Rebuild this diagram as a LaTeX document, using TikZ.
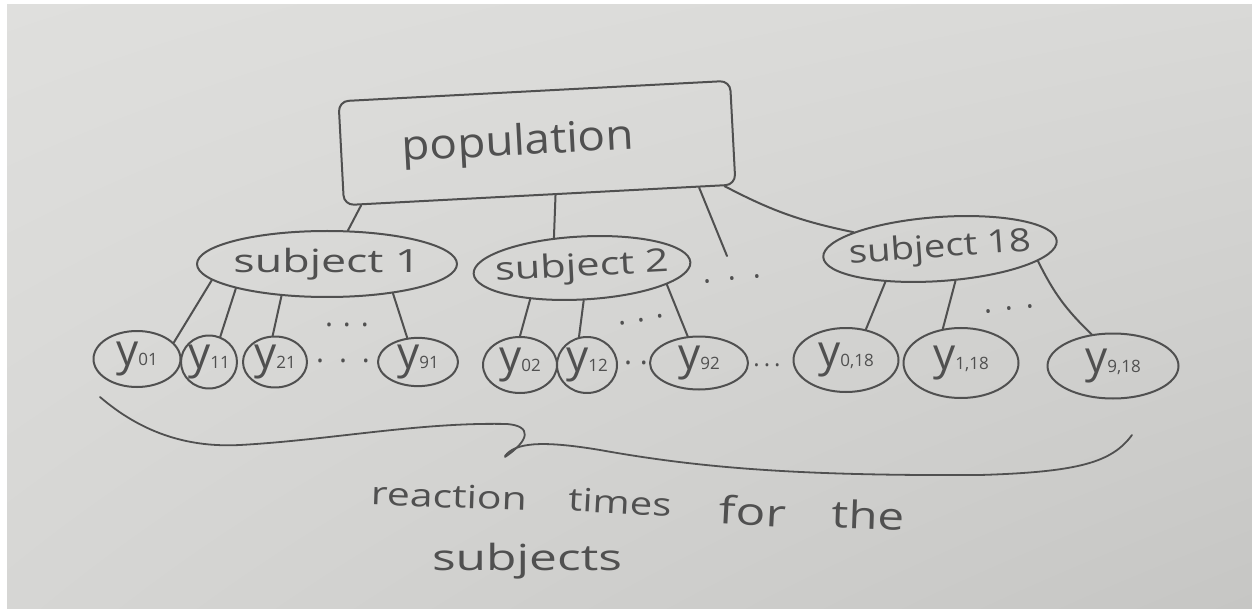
\documentclass[tikz,border=0pt]{standalone}
\usepackage{fontspec}
\setmainfont{Open Sans}
\usepackage{graphicx}
\usetikzlibrary{shapes.geometric,calc,shadings}
\definecolor{ink}{HTML}{505050}
\definecolor{paperUL}{HTML}{DFDFDD}
\definecolor{paperUR}{HTML}{D9D9D7}
\definecolor{paperLL}{HTML}{D6D6D4}
\definecolor{paperLR}{HTML}{C6C6C4}
\newcommand\leafy[1]{{\fontsize{44}{44}\selectfont y}{\fontsize{17}{17}\selectfont #1}}
\newcommand\subjtext[2]{\makebox[0pt]{\scalebox{#1}[1]{\fontsize{32}{32}\selectfont #2}}}
\begin{document}
\begin{tikzpicture}[x=1pt,y=-1pt,
  inkline/.style={draw=ink, line width=2pt, line cap=round, line join=round},
  popbox/.style={rectangle, inkline, rounded corners=10pt, inner sep=0pt, text=ink},
  subj/.style={ellipse, inkline, inner sep=0pt, text=ink},
  leafnode/.style={ellipse, inkline, inner sep=0pt, text=ink},
  dotsn/.style={text=ink, inner sep=0pt, font=\fontsize{30}{30}\selectfont},
  word/.style={text=ink, inner sep=0pt},
  conn/.style={draw=ink, line width=2pt, line cap=round}]
% paper
\shade[upper left=paperUL, upper right=paperUR, lower left=paperLL, lower right=paperLR] (0,0) rectangle (1252,609);
\fill[white] (0,0) rectangle (7,609);
\fill[white] (0,0) rectangle (1252,4);
\useasboundingbox (0,0) rectangle (1252,609);

% population
\node[popbox, minimum width=392pt, minimum height=104pt, rotate=3] (pop) at (537,143)
  {\makebox[0pt]{\kern-38pt\raisebox{-7pt}{\scalebox{1.09}[1]{\fontsize{42}{42}\selectfont population}}}};

% subjects
\node[subj, minimum width=260pt, minimum height=66pt] (s1) at (327,264) {\subjtext{1.4}{subject 1}};
\node[subj, minimum width=217pt, minimum height=63pt, rotate=3] (s2) at (582,268) {\subjtext{1.3}{subject 2}};
\node[subj, minimum width=234pt, minimum height=64pt, rotate=4] (s18) at (940,249) {\subjtext{1.2}{subject 18}};

% leaves
\node[leafnode, minimum width=87pt, minimum height=56pt] (l01) at (137,359) {\makebox[0pt]{\leafy{01}}};
\node[leafnode, minimum width=56pt, minimum height=53pt] (l11) at (209,362) {\makebox[0pt]{\leafy{11}}};
\node[leafnode, minimum width=64pt, minimum height=51pt] (l21) at (275,362) {\makebox[0pt]{\leafy{21}}};
\node[leafnode, minimum width=80pt, minimum height=47pt] (l91) at (418,362) {\makebox[0pt]{\leafy{91}}};
\node[leafnode, minimum width=74pt, minimum height=56pt] (l02) at (520,365) {\makebox[0pt]{\leafy{02}}};
\node[leafnode, minimum width=60pt, minimum height=56pt] (l12) at (587,365) {\makebox[0pt]{\leafy{12}}};
\node[leafnode, minimum width=98pt, minimum height=53pt] (l92) at (699,363) {\makebox[0pt]{\leafy{92}}};
\node[leafnode, minimum width=105pt, minimum height=64pt] (l018) at (846,360) {\makebox[0pt]{\leafy{0,18}}};
\node[leafnode, minimum width=115pt, minimum height=70pt] (l118) at (961,363) {\makebox[0pt]{\leafy{1,18}}};
\node[leafnode, minimum width=131pt, minimum height=65pt] (l918) at (1113,366) {\makebox[0pt]{\leafy{9,18}}};

% dots
\node[dotsn] (d1) at (347,325) {.\hspace{10pt}.\hspace{10pt}.};
\node[dotsn] (d2) at (343,361) {.\hspace{15pt}.\hspace{15pt}.};
\node[dotsn, rotate=10] (d3) at (641,320) {.\hspace{11pt}.\hspace{11pt}.};
\node[dotsn] (d4) at (636,363) {.\hspace{8pt}.};
\node[dotsn, font=\fontsize{24}{24}\selectfont] (d5) at (767,365) {.\hspace{4pt}.\hspace{4pt}.};
\node[dotsn, rotate=6] (d6) at (732,279) {.\hspace{17pt}.\hspace{17pt}.};
\node[dotsn, rotate=6] (d7) at (1009,309) {.\hspace{13pt}.\hspace{13pt}.};

% population connectors
\coordinate (dang) at (727,256);
\draw[conn] ($(pop.south west)!0.046!(pop.south east)$) -- (s1.58);
\draw[conn] ($(pop.south west)!0.54!(pop.south east)$) -- (s2.130);
\draw[conn] ($(pop.south west)!0.905!(pop.south east)$) -- (dang);
\draw[conn] ($(pop.south west)!0.97!(pop.south east)$) to[bend right=8] (s18.165);

% subject 1 connectors
\draw[conn] (s1.188) -- (l01.24);
\draw[conn] (s1.195) -- (l11.66);
\draw[conn] (s1.215) -- (l21.95);
\draw[conn] (s1.336) -- (l91.114);
% subject 2 connectors
\draw[conn] (s2.208) -- (l02.90);
\draw[conn] (s2.270) -- (l12.106);
\draw[conn] (s2.346) -- (l92.113);
% subject 18 connectors
\draw[conn] (s18.207) -- (l018.57);
\draw[conn] (s18.292) -- (l118.118);
\draw[conn] (s18.349) to[bend right=10] (l918.124);

% brace
\draw[conn, line width=1.8pt] (100,397) .. controls (150,440) and (200,447) .. (240,445)
  .. controls (330,440) and (420,422) .. (507,424)
  .. controls (532,426) and (530,440) .. (505,457);
\draw[conn, line width=1.8pt] (505,456) .. controls (515,443) and (540,440) .. (600,450)
  .. controls (700,468) and (800,476) .. (980,475)
  .. controls (1080,472) and (1112,462) .. (1132,435);

% caption words
\node[word, rotate=-2] (w1) at (449,496) {\scalebox{1.28}[1]{\fontsize{32}{32}\selectfont reaction}};
\node[word, rotate=-3] (w2) at (620,502) {\scalebox{1.25}[1]{\fontsize{32}{32}\selectfont times}};
\node[word, rotate=-3] (w3) at (753,511) {\scalebox{1.3}[1]{\fontsize{38}{38}\selectfont for}};
\node[word, rotate=-2] (w4) at (868,515) {\scalebox{1.25}[1]{\fontsize{38}{38}\selectfont the}};
\node[word] (w5) at (527,561) {\scalebox{1.38}[1]{\fontsize{36}{36}\selectfont subjects}};
\end{tikzpicture}
\end{document}
